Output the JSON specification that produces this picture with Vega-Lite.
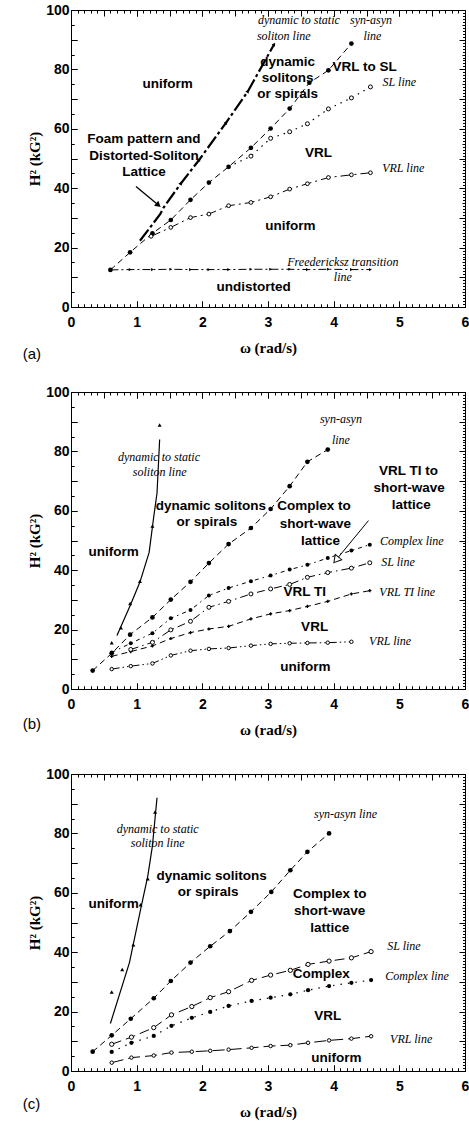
{
"$schema": "https://vega.github.io/schema/vega-lite/v6.json",
"padding": {"left": 22, "top": 2, "right": 0, "bottom": 0},
"spacing": 85,
"bounds": "flush",
"config": {
  "view": {"stroke": "black", "strokeWidth": 1},
  "axis": {"domain": false, "labelColor": "black", "titleColor": "black", "labelFont": "Liberation Sans", "labelFontWeight": "bold", "labelFontSize": 14, "titleFont": "Liberation Serif", "titleFontWeight": "bold", "titleFontSize": 15, "labelOverlap": false, "labelFlush": false},
  "title": {"font": "Liberation Sans", "fontSize": 15, "fontWeight": "normal", "color": "black"}
},
"datasets": {
  "a_syn": [{"w":0.6,"h":12.5},{"w":0.9,"h":18.4},{"w":1.24,"h":24.8},{"w":1.52,"h":29.3},{"w":1.82,"h":36.1},{"w":2.1,"h":41.9},{"w":2.4,"h":47.2},{"w":2.74,"h":53.6},{"w":3.04,"h":60.1},{"w":3.33,"h":66.8},{"w":3.63,"h":75.5},{"w":3.92,"h":79.7},{"w":4.27,"h":88.7}],
  "a_dyn": [{"w":1.05,"h":22.3},{"w":1.36,"h":31.3},{"w":1.41,"h":33.5},{"w":1.67,"h":41.5},{"w":1.95,"h":49.5},{"w":2.36,"h":62},{"w":2.69,"h":72.5},{"w":3.09,"h":88.3}],
  "a_sl": [{"w":2.4,"h":47.2},{"w":2.74,"h":50.8},{"w":3.04,"h":56.8},{"w":3.33,"h":59},{"w":3.6,"h":61.7},{"w":3.92,"h":66.7},{"w":4.27,"h":70.4},{"w":4.56,"h":74.1}],
  "a_vrl": [{"w":1.22,"h":23.8},{"w":1.52,"h":26.8},{"w":1.82,"h":30.1},{"w":2.1,"h":31.3},{"w":2.4,"h":34.1},{"w":2.74,"h":35.2},{"w":3.04,"h":37.1},{"w":3.33,"h":39.7},{"w":3.6,"h":41.5},{"w":3.92,"h":43.6},{"w":4.27,"h":44.5},{"w":4.56,"h":45.2}],
  "a_fre": [{"w":0.6,"h":12.5},{"w":0.9,"h":12.6},{"w":1.24,"h":12.6},{"w":1.52,"h":12.7},{"w":1.82,"h":12.6},{"w":2.1,"h":12.6},{"w":2.4,"h":12.6},{"w":2.74,"h":12.7},{"w":3.04,"h":12.7},{"w":3.33,"h":12.7},{"w":3.6,"h":12.6},{"w":3.92,"h":12.7},{"w":4.27,"h":12.6},{"w":4.56,"h":12.6}],
  "a_arrow": [{"w":1.32,"h":34.5,"w2":0.99,"h2":40.6}],
  "a_txt": [{"w":1.47,"h":75,"t":"uniform"},{"w":3.3,"h":82.4,"t":"dynamic"},{"w":3.3,"h":77,"t":"solitons"},{"w":3.3,"h":71.6,"t":"or  spirals"},{"w":4.47,"h":80.7,"t":"VRL to SL"},{"w":1.11,"h":56.7,"t":"Foam pattern and"},{"w":1.11,"h":51,"t":"Distorted-Soliton"},{"w":1.11,"h":45.3,"t":"Lattice"},{"w":3.77,"h":51.7,"t":"VRL"},{"w":3.34,"h":27.3,"t":"uniform"},{"w":2.78,"h":6.9,"t":"undistorted"}],
  "a_ital": [{"w":3.47,"h":96.7,"t":"dynamic to static"},{"w":3.24,"h":91.3,"t":"soliton  line"},{"w":4.57,"h":96.7,"t":"syn-asyn"},{"w":4.59,"h":91.3,"t":"line"},{"w":5.0,"h":75.7,"t":"SL line"},{"w":5.06,"h":46.8,"t":"VRL line"},{"w":4.14,"h":15.3,"t":"Freedericksz transition"},{"w":4.14,"h":10,"t":"line"}],
  "b_syn": [{"w":0.33,"h":6.2},{"w":0.62,"h":12},{"w":0.9,"h":18.3},{"w":1.24,"h":24.1},{"w":1.52,"h":30.1},{"w":1.82,"h":36.1},{"w":2.1,"h":42.4},{"w":2.4,"h":48.8},{"w":2.74,"h":54.2},{"w":3.04,"h":60.6},{"w":3.33,"h":68.3},{"w":3.6,"h":76.5},{"w":3.91,"h":80.6}],
  "b_dynline": [{"w":0.7,"h":18},{"w":0.9,"h":28},{"w":1.05,"h":36},{"w":1.19,"h":46},{"w":1.26,"h":58},{"w":1.31,"h":66},{"w":1.35,"h":84}],
  "b_dynpts": [{"w":0.62,"h":15.4},{"w":0.76,"h":20.4},{"w":0.9,"h":28.6},{"w":1.05,"h":36.1},{"w":1.24,"h":54.7},{"w":1.35,"h":88.7}],
  "b_cx": [{"w":0.62,"h":12.3},{"w":0.91,"h":15.4},{"w":1.24,"h":18.8},{"w":1.52,"h":23.8},{"w":1.82,"h":26.6},{"w":2.1,"h":31.5},{"w":2.4,"h":34},{"w":2.74,"h":36.3},{"w":3.04,"h":38.2},{"w":3.33,"h":40.2},{"w":3.6,"h":41.8},{"w":3.91,"h":44.1},{"w":4.27,"h":46.6},{"w":4.55,"h":48.6}],
  "b_sl": [{"w":0.91,"h":13.3},{"w":1.24,"h":15.7},{"w":1.52,"h":19.9},{"w":1.82,"h":22.8},{"w":2.1,"h":27.5},{"w":2.4,"h":29.5},{"w":2.74,"h":32},{"w":3.04,"h":33.7},{"w":3.33,"h":35.2},{"w":3.6,"h":37.6},{"w":3.91,"h":39.2},{"w":4.27,"h":40.7},{"w":4.55,"h":42.5}],
  "b_vrlti": [{"w":0.62,"h":11},{"w":0.91,"h":12.6},{"w":1.24,"h":14.5},{"w":1.52,"h":17},{"w":1.82,"h":19},{"w":2.1,"h":20.2},{"w":2.4,"h":21.1},{"w":2.74,"h":23.6},{"w":3.04,"h":25.3},{"w":3.33,"h":26.4},{"w":3.6,"h":27.8},{"w":3.91,"h":29.5},{"w":4.27,"h":32},{"w":4.55,"h":33.1}],
  "b_vrl": [{"w":0.62,"h":6.7},{"w":0.91,"h":7.7},{"w":1.24,"h":8.6},{"w":1.52,"h":11.3},{"w":1.82,"h":12.9},{"w":2.1,"h":13.5},{"w":2.4,"h":13.8},{"w":2.74,"h":14.6},{"w":3.04,"h":15.2},{"w":3.33,"h":15.4},{"w":3.6,"h":15.5},{"w":3.91,"h":15.6},{"w":4.27,"h":15.9}],
  "b_arrow": [{"w":4.05,"h":43.8,"w2":4.53,"h2":56.7}],
  "b_txt": [{"w":2.13,"h":61.7,"t":"dynamic  solitons"},{"w":2.07,"h":56.1,"t":"or  spirals"},{"w":3.7,"h":61.7,"t":"Complex to"},{"w":3.72,"h":55.6,"t":"short-wave"},{"w":3.8,"h":50,"t":"lattice"},{"w":5.14,"h":73.3,"t":"VRL TI to"},{"w":5.15,"h":67.7,"t":"short-wave"},{"w":5.18,"h":62,"t":"lattice"},{"w":0.65,"h":46,"t":"uniform"},{"w":3.56,"h":32.8,"t":"VRL TI"},{"w":3.71,"h":20.8,"t":"VRL"},{"w":3.57,"h":7.3,"t":"uniform"}],
  "b_ital": [{"w":4.11,"h":91,"t":"syn-asyn"},{"w":4.11,"h":84,"t":"line"},{"w":1.34,"h":78.2,"t":"dynamic to static"},{"w":1.35,"h":73.2,"t":"soliton  line"},{"w":5.19,"h":50,"t":"Complex  line"},{"w":4.98,"h":42.7,"t":"SL line"},{"w":5.12,"h":32.8,"t":"VRL TI line"},{"w":4.86,"h":16,"t":"VRL line"}],
  "c_syn": [{"w":0.33,"h":6.5},{"w":0.62,"h":12},{"w":0.91,"h":17.6},{"w":1.26,"h":24.5},{"w":1.52,"h":30.3},{"w":1.82,"h":36.5},{"w":2.12,"h":42},{"w":2.42,"h":47.1},{"w":2.74,"h":53.6},{"w":3.05,"h":60.3},{"w":3.34,"h":67.6},{"w":3.6,"h":73.8},{"w":3.93,"h":80}],
  "c_dynline": [{"w":0.6,"h":16},{"w":0.89,"h":36.5},{"w":1.06,"h":54.4},{"w":1.17,"h":65.7},{"w":1.24,"h":75.8},{"w":1.31,"h":92}],
  "c_dynpts": [{"w":0.62,"h":26.4},{"w":0.78,"h":34},{"w":0.95,"h":42.3},{"w":1.06,"h":55.8},{"w":1.17,"h":64.5},{"w":1.28,"h":87}],
  "c_sl": [{"w":0.62,"h":9},{"w":0.92,"h":11.4},{"w":1.26,"h":14.6},{"w":1.53,"h":18.9},{"w":1.84,"h":21.7},{"w":2.12,"h":24.7},{"w":2.4,"h":26.7},{"w":2.75,"h":30.5},{"w":3.04,"h":32.3},{"w":3.34,"h":33.9},{"w":3.61,"h":35.9},{"w":3.93,"h":37},{"w":4.27,"h":38.1},{"w":4.57,"h":40.2}],
  "c_cx": [{"w":0.62,"h":6.4},{"w":0.92,"h":9.5},{"w":1.26,"h":11.8},{"w":1.53,"h":15.2},{"w":1.84,"h":17.9},{"w":2.12,"h":19.9},{"w":2.4,"h":21.9},{"w":2.75,"h":23.6},{"w":3.04,"h":24.7},{"w":3.34,"h":25.8},{"w":3.61,"h":27.2},{"w":3.93,"h":28.6},{"w":4.27,"h":29.7},{"w":4.57,"h":30.6}],
  "c_vrl": [{"w":0.62,"h":2.8},{"w":0.92,"h":4.5},{"w":1.26,"h":5.2},{"w":1.53,"h":6.2},{"w":1.84,"h":6.5},{"w":2.12,"h":6.8},{"w":2.4,"h":7.2},{"w":2.75,"h":7.8},{"w":3.04,"h":8.4},{"w":3.34,"h":8.7},{"w":3.61,"h":9.5},{"w":3.93,"h":10.3},{"w":4.27,"h":10.9},{"w":4.57,"h":11.7}],
  "c_txt": [{"w":2.14,"h":65.7,"t":"dynamic  solitons"},{"w":2.09,"h":60.4,"t":"or  spirals"},{"w":0.65,"h":56.1,"t":"uniform"},{"w":3.94,"h":59.5,"t":"Complex to"},{"w":3.94,"h":53.9,"t":"short-wave"},{"w":3.94,"h":48.3,"t":"lattice"},{"w":3.81,"h":32.6,"t":"Complex"},{"w":3.91,"h":18.5,"t":"VRL"},{"w":4.04,"h":4.5,"t":"uniform"}],
  "c_ital": [{"w":1.32,"h":81.4,"t":"dynamic to static"},{"w":1.32,"h":76.6,"t":"soliton  line"},{"w":4.18,"h":86.4,"t":"syn-asyn  line"},{"w":5.07,"h":42.1,"t":"SL line"},{"w":5.27,"h":32,"t":"Complex  line"},{"w":5.18,"h":10.7,"t":"VRL line"}]
},
"vconcat": [
{
  "width": 394, "height": 297,
  "title": {"text": "(a)", "orient": "bottom", "anchor": "start", "frame": "bounds", "offset": -8, "dx": -5},
  "resolve": {"axis": {"x": "independent", "y": "independent"}},
  "layer": [
    {"data": {"name": "a_syn"}, "mark": {"type": "point", "opacity": 0},
     "encoding": {
      "x": {"field": "w", "type": "quantitative", "scale": {"domain": [0, 6], "nice": false, "zero": false}, "axis": {"orient": "bottom", "values": [0,0.5,1,1.5,2,2.5,3,3.5,4,4.5,5,5.5,6], "format": "d", "labelExpr": "datum.value % 1 === 0 ? datum.label : ''", "ticks": true, "tickColor": "black", "tickOpacity": 1, "tickWidth": 1, "tickSize": 6, "offset": -6, "grid": true, "gridColor": "black", "gridOpacity": 1, "gridWidth": 1, "gridDash": [6, 285, 6, 60], "labelPadding": 8, "labelFlush": false, "title": "ω  (rad/s)", "titlePadding": 11}},
      "y": {"field": "h", "type": "quantitative", "scale": {"domain": [0, 100], "nice": false, "zero": false}, "axis": {"orient": "left", "values": [0,10,20,30,40,50,60,70,80,90,100], "labelExpr": "datum.value % 20 === 0 ? datum.label : ''", "ticks": true, "tickColor": "black", "tickOpacity": 1, "tickWidth": 1, "tickSize": 6, "offset": -6, "grid": true, "gridColor": "black", "gridOpacity": 1, "gridWidth": 1, "gridDash": [6, 382, 6, 60], "labelPadding": 2, "title": "H² (kG²)", "titlePadding": 3}}}},
    {"data": {"name": "a_syn"}, "mark": {"type": "point", "opacity": 0},
     "encoding": {
      "x": {"field": "w", "type": "quantitative", "scale": {"domain": [0, 6], "nice": false, "zero": false}, "axis": {"orient": "bottom", "values": [0,0.1,0.2,0.3,0.4,0.5,0.6,0.7,0.8,0.9,1,1.1,1.2,1.3,1.4,1.5,1.6,1.7,1.8,1.9,2,2.1,2.2,2.3,2.4,2.5,2.6,2.7,2.8,2.9,3,3.1,3.2,3.3,3.4,3.5,3.6,3.7,3.8,3.9,4,4.1,4.2,4.3,4.4,4.5,4.6,4.7,4.8,4.9,5,5.1,5.2,5.3,5.4,5.5,5.6,5.7,5.8,5.9,6], "labels": false, "ticks": true, "tickColor": "black", "tickOpacity": 1, "tickWidth": 1, "tickSize": 3, "offset": -3, "grid": true, "gridColor": "black", "gridOpacity": 1, "gridWidth": 1, "gridDash": [3, 291, 3, 60], "title": null}},
      "y": {"field": "h", "type": "quantitative", "scale": {"domain": [0, 100], "nice": false, "zero": false}, "axis": {"orient": "left", "values": [0,5,10,15,20,25,30,35,40,45,50,55,60,65,70,75,80,85,90,95,100], "labels": false, "ticks": true, "tickColor": "black", "tickOpacity": 1, "tickWidth": 1, "tickSize": 3, "offset": -3, "grid": true, "gridColor": "black", "gridOpacity": 1, "gridWidth": 1, "gridDash": [3, 388, 3, 60], "title": null}}}},
    {"data": {"name": "a_syn"}, "mark": {"type": "point", "opacity": 0},
     "encoding": {
      "x": {"field": "w", "type": "quantitative", "scale": {"domain": [0, 6], "nice": false, "zero": false}, "axis": {"orient": "top", "values": [0,0.5,1,1.5,2,2.5,3,3.5,4,4.5,5,5.5,6], "labels": false, "ticks": true, "tickColor": "black", "tickOpacity": 1, "tickWidth": 1, "tickSize": 6, "offset": -6, "grid": false, "title": null}},
      "y": {"field": "h", "type": "quantitative", "scale": {"domain": [0, 100], "nice": false, "zero": false}, "axis": {"orient": "right", "values": [0,1,2,3,4,5,6,7,8,9,10,11,12,13,14,15,16,17,18,19,20,21,22,23,24,25,26,27,28,29,30,31,32,33,34,35,36,37,38,39,40,41,42,43,44,45,46,47,48,49,50,51,52,53,54,55,56,57,58,59,60,61,62,63,64,65,66,67,68,69,70,71,72,73,74,75,76,77,78,79,80,81,82,83,84,85,86,87,88,89,90,91,92,93,94,95,96,97,98,99,100], "labels": false, "ticks": true, "tickColor": "black", "tickOpacity": 1, "tickWidth": 1, "tickSize": 2.5, "offset": -2.5, "grid": true, "gridColor": "black", "gridOpacity": 1, "gridWidth": 1, "gridDash": [2.5, 1000], "title": null}}}},
    {
      "encoding": {
        "x": {"field": "w", "type": "quantitative", "axis": null, "scale": {"domain": [0, 6], "nice": false, "zero": false}},
        "y": {"field": "h", "type": "quantitative", "axis": null, "scale": {"domain": [0, 100], "nice": false, "zero": false}}
      },
      "layer": [
        {"data": {"name": "a_fre"}, "mark": {"type": "line", "color": "black", "strokeWidth": 1, "strokeDash": [8, 3, 2, 3]}},
        {"data": {"name": "a_fre"}, "transform": [{"filter": "datum.w > 0.7"}], "mark": {"type": "point", "shape": "triangle-right", "filled": true, "color": "black", "size": 10, "opacity": 1}},
        {"data": {"name": "a_syn"}, "mark": {"type": "line", "color": "black", "strokeWidth": 1, "strokeDash": [6, 4]}},
        {"data": {"name": "a_syn"}, "mark": {"type": "point", "shape": "circle", "filled": true, "color": "black", "size": 22, "opacity": 1}},
        {"data": {"name": "a_sl"}, "mark": {"type": "line", "color": "black", "strokeWidth": 1.2, "strokeDash": [1.5, 5]}},
        {"data": {"name": "a_sl"}, "transform": [{"filter": "datum.w > 2.5"}], "mark": {"type": "point", "shape": "circle", "filled": true, "fill": "white", "stroke": "black", "strokeWidth": 1, "size": 16, "opacity": 1}},
        {"data": {"name": "a_vrl"}, "mark": {"type": "line", "color": "black", "strokeWidth": 1, "strokeDash": [10, 4, 2, 4]}},
        {"data": {"name": "a_vrl"}, "mark": {"type": "point", "shape": "circle", "filled": true, "fill": "white", "stroke": "black", "strokeWidth": 1, "size": 14, "opacity": 1}},
        {"data": {"name": "a_dyn"}, "mark": {"type": "line", "color": "black", "strokeWidth": 2.2, "strokeDash": [14, 3, 3, 3]}},
        {"data": {"name": "a_dyn"}, "transform": [{"filter": "datum.w > 1.6"}], "mark": {"type": "point", "shape": "triangle", "angle": 34, "filled": true, "color": "black", "size": 16, "opacity": 1}},
        {"data": {"name": "a_arrow"}, "mark": {"type": "rule", "color": "black", "strokeWidth": 1.3},
         "encoding": {"x2": {"field": "w2"}, "y2": {"field": "h2"}}},
        {"data": {"name": "a_arrow"}, "mark": {"type": "point", "shape": "triangle", "angle": 130, "filled": true, "color": "black", "size": 45, "opacity": 1}},
        {"data": {"name": "a_txt"}, "mark": {"type": "text", "font": "Liberation Sans", "fontWeight": "bold", "fontSize": 13.5, "color": "black", "align": "center", "baseline": "middle"}, "encoding": {"text": {"field": "t"}}},
        {"data": {"name": "a_ital"}, "mark": {"type": "text", "font": "Liberation Serif", "fontStyle": "italic", "fontSize": 12, "color": "black", "align": "center", "baseline": "middle"}, "encoding": {"text": {"field": "t"}}}
      ]
    }
  ]
},
{
  "width": 394, "height": 297,
  "title": {"text": "(b)", "orient": "bottom", "anchor": "start", "frame": "bounds", "offset": -20, "dx": -5},
  "resolve": {"axis": {"x": "independent", "y": "independent"}},
  "layer": [
    {"data": {"name": "b_syn"}, "mark": {"type": "point", "opacity": 0},
     "encoding": {
      "x": {"field": "w", "type": "quantitative", "scale": {"domain": [0, 6], "nice": false, "zero": false}, "axis": {"orient": "bottom", "values": [0,0.5,1,1.5,2,2.5,3,3.5,4,4.5,5,5.5,6], "format": "d", "labelExpr": "datum.value % 1 === 0 ? datum.label : ''", "ticks": true, "tickColor": "black", "tickOpacity": 1, "tickWidth": 1, "tickSize": 6, "offset": -6, "grid": true, "gridColor": "black", "gridOpacity": 1, "gridWidth": 1, "gridDash": [6, 285, 6, 60], "labelPadding": 8, "labelFlush": false, "title": "ω  (rad/s)", "titlePadding": 11}},
      "y": {"field": "h", "type": "quantitative", "scale": {"domain": [0, 100], "nice": false, "zero": false}, "axis": {"orient": "left", "values": [0,10,20,30,40,50,60,70,80,90,100], "labelExpr": "datum.value % 20 === 0 ? datum.label : ''", "ticks": true, "tickColor": "black", "tickOpacity": 1, "tickWidth": 1, "tickSize": 6, "offset": -6, "grid": true, "gridColor": "black", "gridOpacity": 1, "gridWidth": 1, "gridDash": [6, 382, 6, 60], "labelPadding": 2, "title": "H² (kG²)", "titlePadding": 3}}}},
    {"data": {"name": "b_syn"}, "mark": {"type": "point", "opacity": 0},
     "encoding": {
      "x": {"field": "w", "type": "quantitative", "scale": {"domain": [0, 6], "nice": false, "zero": false}, "axis": {"orient": "bottom", "values": [0,0.1,0.2,0.3,0.4,0.5,0.6,0.7,0.8,0.9,1,1.1,1.2,1.3,1.4,1.5,1.6,1.7,1.8,1.9,2,2.1,2.2,2.3,2.4,2.5,2.6,2.7,2.8,2.9,3,3.1,3.2,3.3,3.4,3.5,3.6,3.7,3.8,3.9,4,4.1,4.2,4.3,4.4,4.5,4.6,4.7,4.8,4.9,5,5.1,5.2,5.3,5.4,5.5,5.6,5.7,5.8,5.9,6], "labels": false, "ticks": true, "tickColor": "black", "tickOpacity": 1, "tickWidth": 1, "tickSize": 3, "offset": -3, "grid": true, "gridColor": "black", "gridOpacity": 1, "gridWidth": 1, "gridDash": [3, 291, 3, 60], "title": null}},
      "y": {"field": "h", "type": "quantitative", "scale": {"domain": [0, 100], "nice": false, "zero": false}, "axis": {"orient": "left", "values": [0,5,10,15,20,25,30,35,40,45,50,55,60,65,70,75,80,85,90,95,100], "labels": false, "ticks": true, "tickColor": "black", "tickOpacity": 1, "tickWidth": 1, "tickSize": 3, "offset": -3, "grid": true, "gridColor": "black", "gridOpacity": 1, "gridWidth": 1, "gridDash": [3, 388, 3, 60], "title": null}}}},
    {"data": {"name": "b_syn"}, "mark": {"type": "point", "opacity": 0},
     "encoding": {
      "x": {"field": "w", "type": "quantitative", "scale": {"domain": [0, 6], "nice": false, "zero": false}, "axis": {"orient": "top", "values": [0,0.5,1,1.5,2,2.5,3,3.5,4,4.5,5,5.5,6], "labels": false, "ticks": true, "tickColor": "black", "tickOpacity": 1, "tickWidth": 1, "tickSize": 6, "offset": -6, "grid": false, "title": null}},
      "y": {"field": "h", "type": "quantitative", "scale": {"domain": [0, 100], "nice": false, "zero": false}, "axis": {"orient": "right", "values": [0,1,2,3,4,5,6,7,8,9,10,11,12,13,14,15,16,17,18,19,20,21,22,23,24,25,26,27,28,29,30,31,32,33,34,35,36,37,38,39,40,41,42,43,44,45,46,47,48,49,50,51,52,53,54,55,56,57,58,59,60,61,62,63,64,65,66,67,68,69,70,71,72,73,74,75,76,77,78,79,80,81,82,83,84,85,86,87,88,89,90,91,92,93,94,95,96,97,98,99,100], "labels": false, "ticks": true, "tickColor": "black", "tickOpacity": 1, "tickWidth": 1, "tickSize": 2.5, "offset": -2.5, "grid": true, "gridColor": "black", "gridOpacity": 1, "gridWidth": 1, "gridDash": [2.5, 1000], "title": null}}}},
    {
      "encoding": {
        "x": {"field": "w", "type": "quantitative", "axis": null, "scale": {"domain": [0, 6], "nice": false, "zero": false}},
        "y": {"field": "h", "type": "quantitative", "axis": null, "scale": {"domain": [0, 100], "nice": false, "zero": false}}
      },
      "layer": [
        {"data": {"name": "b_vrl"}, "mark": {"type": "line", "color": "black", "strokeWidth": 1, "strokeDash": [8, 3, 1.5, 3, 1.5, 3]}},
        {"data": {"name": "b_vrl"}, "mark": {"type": "point", "shape": "circle", "filled": true, "fill": "white", "stroke": "black", "strokeWidth": 1, "size": 12, "opacity": 1}},
        {"data": {"name": "b_vrlti"}, "mark": {"type": "line", "color": "black", "strokeWidth": 1, "strokeDash": [6, 4]}},
        {"data": {"name": "b_vrlti"}, "mark": {"type": "point", "shape": "cross", "filled": true, "color": "black", "size": 10, "opacity": 1}},
        {"data": {"name": "b_sl"}, "mark": {"type": "line", "color": "black", "strokeWidth": 1, "strokeDash": [8, 4, 1.5, 4]}},
        {"data": {"name": "b_sl"}, "mark": {"type": "point", "shape": "circle", "filled": true, "fill": "white", "stroke": "black", "strokeWidth": 1, "size": 16, "opacity": 1}},
        {"data": {"name": "b_cx"}, "mark": {"type": "line", "color": "black", "strokeWidth": 1, "strokeDash": [4, 4, 1.5, 4]}},
        {"data": {"name": "b_cx"}, "mark": {"type": "point", "shape": "circle", "filled": true, "color": "black", "size": 16, "opacity": 1}},
        {"data": {"name": "b_syn"}, "mark": {"type": "line", "color": "black", "strokeWidth": 1, "strokeDash": [6, 4]}},
        {"data": {"name": "b_syn"}, "mark": {"type": "point", "shape": "circle", "filled": true, "color": "black", "size": 22, "opacity": 1}},
        {"data": {"name": "b_dynline"}, "mark": {"type": "line", "color": "black", "strokeWidth": 1.2}},
        {"data": {"name": "b_dynpts"}, "mark": {"type": "point", "shape": "triangle", "filled": true, "color": "black", "size": 16, "opacity": 1}},
        {"data": {"name": "b_arrow"}, "mark": {"type": "rule", "color": "black", "strokeWidth": 1},
         "encoding": {"x2": {"field": "w2"}, "y2": {"field": "h2"}}},
        {"data": {"name": "b_arrow"}, "mark": {"type": "point", "shape": "triangle", "angle": 219.5, "filled": true, "fill": "white", "stroke": "black", "strokeWidth": 1, "size": 70, "opacity": 1}},
        {"data": {"name": "b_txt"}, "mark": {"type": "text", "font": "Liberation Sans", "fontWeight": "bold", "fontSize": 13.5, "color": "black", "align": "center", "baseline": "middle"}, "encoding": {"text": {"field": "t"}}},
        {"data": {"name": "b_ital"}, "mark": {"type": "text", "font": "Liberation Serif", "fontStyle": "italic", "fontSize": 12, "color": "black", "align": "center", "baseline": "middle"}, "encoding": {"text": {"field": "t"}}}
      ]
    }
  ]
},
{
  "width": 394, "height": 297,
  "title": {"text": "(c)", "orient": "bottom", "anchor": "start", "frame": "bounds", "offset": -22, "dx": -5},
  "resolve": {"axis": {"x": "independent", "y": "independent"}},
  "layer": [
    {"data": {"name": "c_syn"}, "mark": {"type": "point", "opacity": 0},
     "encoding": {
      "x": {"field": "w", "type": "quantitative", "scale": {"domain": [0, 6], "nice": false, "zero": false}, "axis": {"orient": "bottom", "values": [0,0.5,1,1.5,2,2.5,3,3.5,4,4.5,5,5.5,6], "format": "d", "labelExpr": "datum.value % 1 === 0 ? datum.label : ''", "ticks": true, "tickColor": "black", "tickOpacity": 1, "tickWidth": 1, "tickSize": 6, "offset": -6, "grid": true, "gridColor": "black", "gridOpacity": 1, "gridWidth": 1, "gridDash": [6, 285, 6, 60], "labelPadding": 8, "labelFlush": false, "title": "ω  (rad/s)", "titlePadding": 11}},
      "y": {"field": "h", "type": "quantitative", "scale": {"domain": [0, 100], "nice": false, "zero": false}, "axis": {"orient": "left", "values": [0,10,20,30,40,50,60,70,80,90,100], "labelExpr": "datum.value % 20 === 0 ? datum.label : ''", "ticks": true, "tickColor": "black", "tickOpacity": 1, "tickWidth": 1, "tickSize": 6, "offset": -6, "grid": true, "gridColor": "black", "gridOpacity": 1, "gridWidth": 1, "gridDash": [6, 382, 6, 60], "labelPadding": 2, "title": "H² (kG²)", "titlePadding": 3}}}},
    {"data": {"name": "c_syn"}, "mark": {"type": "point", "opacity": 0},
     "encoding": {
      "x": {"field": "w", "type": "quantitative", "scale": {"domain": [0, 6], "nice": false, "zero": false}, "axis": {"orient": "bottom", "values": [0,0.1,0.2,0.3,0.4,0.5,0.6,0.7,0.8,0.9,1,1.1,1.2,1.3,1.4,1.5,1.6,1.7,1.8,1.9,2,2.1,2.2,2.3,2.4,2.5,2.6,2.7,2.8,2.9,3,3.1,3.2,3.3,3.4,3.5,3.6,3.7,3.8,3.9,4,4.1,4.2,4.3,4.4,4.5,4.6,4.7,4.8,4.9,5,5.1,5.2,5.3,5.4,5.5,5.6,5.7,5.8,5.9,6], "labels": false, "ticks": true, "tickColor": "black", "tickOpacity": 1, "tickWidth": 1, "tickSize": 3, "offset": -3, "grid": true, "gridColor": "black", "gridOpacity": 1, "gridWidth": 1, "gridDash": [3, 291, 3, 60], "title": null}},
      "y": {"field": "h", "type": "quantitative", "scale": {"domain": [0, 100], "nice": false, "zero": false}, "axis": {"orient": "left", "values": [0,5,10,15,20,25,30,35,40,45,50,55,60,65,70,75,80,85,90,95,100], "labels": false, "ticks": true, "tickColor": "black", "tickOpacity": 1, "tickWidth": 1, "tickSize": 3, "offset": -3, "grid": true, "gridColor": "black", "gridOpacity": 1, "gridWidth": 1, "gridDash": [3, 388, 3, 60], "title": null}}}},
    {"data": {"name": "c_syn"}, "mark": {"type": "point", "opacity": 0},
     "encoding": {
      "x": {"field": "w", "type": "quantitative", "scale": {"domain": [0, 6], "nice": false, "zero": false}, "axis": {"orient": "top", "values": [0,0.5,1,1.5,2,2.5,3,3.5,4,4.5,5,5.5,6], "labels": false, "ticks": true, "tickColor": "black", "tickOpacity": 1, "tickWidth": 1, "tickSize": 6, "offset": -6, "grid": false, "title": null}},
      "y": {"field": "h", "type": "quantitative", "scale": {"domain": [0, 100], "nice": false, "zero": false}, "axis": {"orient": "right", "values": [0,1,2,3,4,5,6,7,8,9,10,11,12,13,14,15,16,17,18,19,20,21,22,23,24,25,26,27,28,29,30,31,32,33,34,35,36,37,38,39,40,41,42,43,44,45,46,47,48,49,50,51,52,53,54,55,56,57,58,59,60,61,62,63,64,65,66,67,68,69,70,71,72,73,74,75,76,77,78,79,80,81,82,83,84,85,86,87,88,89,90,91,92,93,94,95,96,97,98,99,100], "labels": false, "ticks": true, "tickColor": "black", "tickOpacity": 1, "tickWidth": 1, "tickSize": 2.5, "offset": -2.5, "grid": true, "gridColor": "black", "gridOpacity": 1, "gridWidth": 1, "gridDash": [2.5, 1000], "title": null}}}},
    {
      "encoding": {
        "x": {"field": "w", "type": "quantitative", "axis": null, "scale": {"domain": [0, 6], "nice": false, "zero": false}},
        "y": {"field": "h", "type": "quantitative", "axis": null, "scale": {"domain": [0, 100], "nice": false, "zero": false}}
      },
      "layer": [
        {"data": {"name": "c_vrl"}, "mark": {"type": "line", "color": "black", "strokeWidth": 1, "strokeDash": [12, 5]}},
        {"data": {"name": "c_vrl"}, "mark": {"type": "point", "shape": "circle", "filled": true, "fill": "white", "stroke": "black", "strokeWidth": 1, "size": 12, "opacity": 1}},
        {"data": {"name": "c_cx"}, "mark": {"type": "line", "color": "black", "strokeWidth": 1.2, "strokeDash": [1.5, 6]}},
        {"data": {"name": "c_cx"}, "mark": {"type": "point", "shape": "circle", "filled": true, "color": "black", "size": 18, "opacity": 1}},
        {"data": {"name": "c_sl"}, "mark": {"type": "line", "color": "black", "strokeWidth": 1, "strokeDash": [10, 5]}},
        {"data": {"name": "c_sl"}, "mark": {"type": "point", "shape": "circle", "filled": true, "fill": "white", "stroke": "black", "strokeWidth": 1, "size": 18, "opacity": 1}},
        {"data": {"name": "c_syn"}, "mark": {"type": "line", "color": "black", "strokeWidth": 1, "strokeDash": [6, 4]}},
        {"data": {"name": "c_syn"}, "mark": {"type": "point", "shape": "circle", "filled": true, "color": "black", "size": 22, "opacity": 1}},
        {"data": {"name": "c_dynline"}, "mark": {"type": "line", "color": "black", "strokeWidth": 1.2}},
        {"data": {"name": "c_dynpts"}, "mark": {"type": "point", "shape": "triangle", "filled": true, "color": "black", "size": 16, "opacity": 1}},
        {"data": {"name": "c_txt"}, "mark": {"type": "text", "font": "Liberation Sans", "fontWeight": "bold", "fontSize": 13.5, "color": "black", "align": "center", "baseline": "middle"}, "encoding": {"text": {"field": "t"}}},
        {"data": {"name": "c_ital"}, "mark": {"type": "text", "font": "Liberation Serif", "fontStyle": "italic", "fontSize": 12, "color": "black", "align": "center", "baseline": "middle"}, "encoding": {"text": {"field": "t"}}}
      ]
    }
  ]
}
]
}
